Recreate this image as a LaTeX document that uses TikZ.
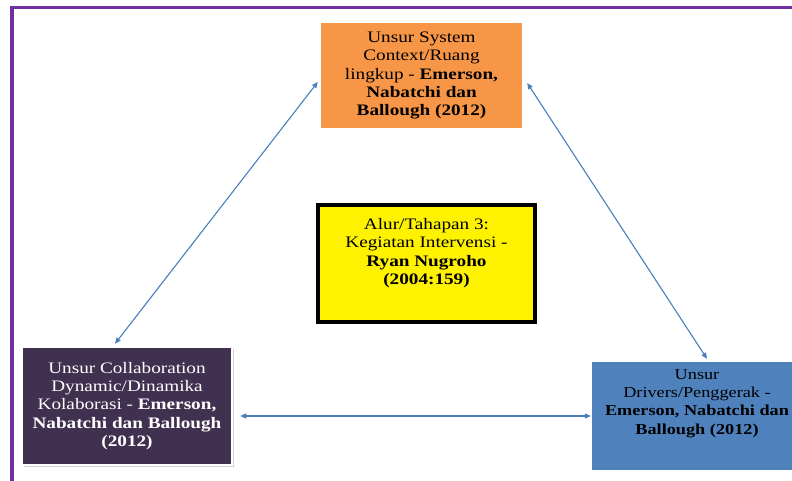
\documentclass[tikz,border=0pt]{standalone}
\usepackage{fontspec}
\setmainfont{Liberation Serif}[FakeStretch=1.2]
\usetikzlibrary{arrows.meta,calc,shadows}
\definecolor{bingkai}{HTML}{7030A0}
\definecolor{oranye}{HTML}{F79646}
\definecolor{ungu}{HTML}{403151}
\definecolor{biru}{HTML}{4F81BD}
\definecolor{panah}{HTML}{4A7EBB}
\begin{document}
\begin{tikzpicture}[x=1pt,y=-1pt]
     \tikzstyle{kotak}=[inner sep=0pt, align=center, font=\fontsize{16}{18.3}\selectfont]
     \tikzstyle{hubung}=[draw=panah, line width=1.1pt, {Triangle[length=6pt,width=5pt]}-{Triangle[length=6pt,width=5pt]}]
     \useasboundingbox (0,0) rectangle (792,481);
     \fill[white] (0,0) rectangle (792,481);
     \draw[bingkai, line width=3.5pt] (12,7.5) rectangle (820,500);
     \node[kotak, fill=oranye, minimum width=201pt, minimum height=105pt] (sistem) at (421.5,75.5)
     {Unsur System\\Context/Ruang\\lingkup - \textbf{Emerson,}\\\textbf{Nabatchi dan}\\\textbf{Ballough (2012)}};
     \node[kotak, fill=yellow, draw=black, line width=4pt, minimum width=217pt, minimum height=117pt] (intervensi) at (426.5,263.5)
     {Alur/Tahapan 3:\\Kegiatan Intervensi -\\\textbf{Ryan Nugroho}\\\textbf{(2004:159)}\\[6pt]};
     \node[kotak, fill=ungu, text=white, draw=white, line width=2.5pt, minimum width=210pt, minimum height=118pt,
     drop shadow={shadow xshift=1.5pt, shadow yshift=-1.5pt, opacity=0.35, fill=gray}] (dinamika) at (127,406)
     {Unsur Collaboration\\Dynamic/Dinamika\\Kolaborasi - \textbf{Emerson,}\\\textbf{Nabatchi dan Ballough}\\\textbf{(2012)}};
     \node[kotak, fill=biru, minimum width=210pt, minimum height=108pt, font=\fontsize{15.2}{18.3}\selectfont] (penggerak) at (697,416)
     {Unsur\\Drivers/Penggerak -\\\textbf{Emerson, Nabatchi dan}\\\textbf{Ballough (2012)}\\[10pt]};
     \draw[hubung] ($(sistem.west)+(-3,6.5)$) -- ($(dinamika.north)+(-12,-2)$);
     \draw[hubung] ($(sistem.east)+(5,7.5)$) -- ($(penggerak.north)+(10,-3)$);
     \draw[hubung, shorten <=7pt, shorten >=1pt] (dinamika.east |- penggerak.west) -- (penggerak.west);
\end{tikzpicture}
\end{document}
